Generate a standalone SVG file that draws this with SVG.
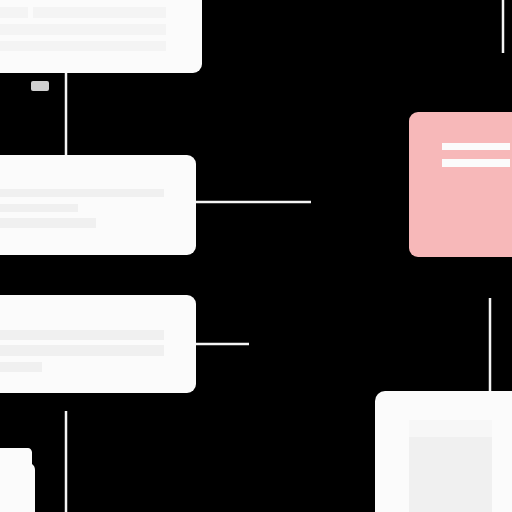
<svg xmlns="http://www.w3.org/2000/svg" width="512" height="512" viewBox="0 0 512 512">
<style>
.card{fill:#fbfbfb}
.bar{fill:#f0f0f0}
.faint{fill:#f4f4f4}
.wire{stroke:#f4f4f4;stroke-width:2.5;fill:none}
.pbar{fill:#fbfbfb}
</style>
<rect width="512" height="512" fill="#000"/>
<g id="connectors">
<line class="wire" x1="66" y1="73" x2="66" y2="155"/>
<line class="wire" x1="196" y1="202" x2="311" y2="202"/>
<line class="wire" x1="196" y1="344" x2="249" y2="344"/>
<line class="wire" x1="66" y1="411" x2="66" y2="512"/>
<line class="wire" x1="503" y1="0" x2="503" y2="53"/>
<line class="wire" x1="490" y1="298" x2="490" y2="392"/>
</g>
<g id="node-top">
<rect class="card" x="-10" y="-10" width="212" height="83" rx="9"/>
<rect class="faint" x="0" y="7" width="28" height="11"/>
<rect class="faint" x="33" y="7" width="133" height="11"/>
<rect class="faint" x="0" y="24" width="166" height="11"/>
<rect class="faint" x="0" y="41" width="166" height="10"/>
</g>
<g id="node-tag">
<rect x="31" y="81" width="18" height="10" rx="2" fill="#d0d0d0"/>
</g>
<g id="node-mid1">
<rect class="card" x="-10" y="155" width="206" height="100" rx="9"/>
<rect class="bar" x="0" y="189" width="164" height="8"/>
<rect class="bar" x="0" y="204" width="78" height="8"/>
<rect class="bar" x="0" y="218" width="96" height="10"/>
</g>
<g id="node-mid2">
<rect class="card" x="-10" y="295" width="206" height="98" rx="9"/>
<rect class="bar" x="0" y="330" width="164" height="10"/>
<rect class="bar" x="0" y="345" width="164" height="11"/>
<rect class="bar" x="0" y="362" width="42" height="10"/>
</g>
<g id="node-bottom-left">
<path class="card" d="M0 448 H28 Q31 448 32 452 L32 464 Q35 466 35 470 V512 H0 Z"/>
</g>
<g id="node-pink">
<rect x="409" y="112" width="113" height="145" rx="9" fill="#f7b8b9"/>
<rect class="pbar" x="442" y="143" width="68" height="7"/>
<rect class="pbar" x="442" y="159" width="68" height="8"/>
</g>
<g id="node-bottom-right">
<rect class="card" x="375" y="391" width="147" height="131" rx="10"/>
<rect x="409" y="420" width="83" height="92" fill="#f7f7f7"/>
<rect x="409" y="437" width="83" height="75" fill="#f0f0f0"/>
</g>
</svg>
